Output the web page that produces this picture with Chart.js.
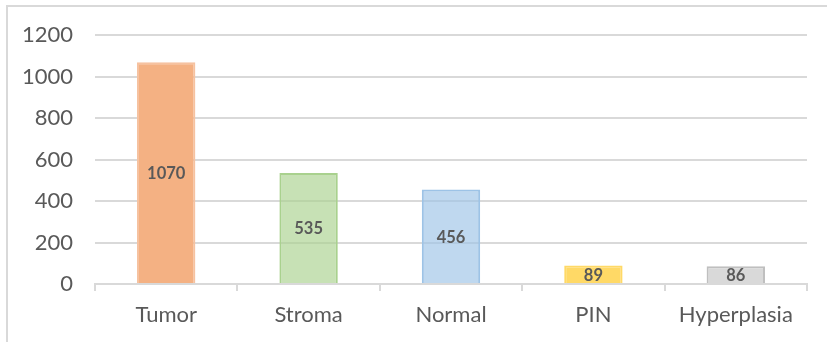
<!DOCTYPE html>
<html>
<head>
<meta charset="utf-8">
<script src="https://cdn.jsdelivr.net/npm/chart.js@4/dist/chart.umd.min.js"></script>
<style>
    html, body { margin: 0; padding: 0; background: #fff; overflow: hidden; }
    #wrap { position: relative; width: 827px; height: 342px; }
    #frame {
        position: absolute; left: 6px; top: 5px; width: 840px; height: 360px;
        border: 2px solid #d9d9d9; box-sizing: border-box;
    }
    canvas { position: absolute; left: 0; top: 0; }
</style>
</head>
<body>
<div id="wrap">
    <div id="frame"></div>
    <canvas id="chart" width="827" height="342"></canvas>
</div>
<script>
    // Tissue categories and counts
    const categories = ['Tumor', 'Stroma', 'Normal', 'PIN', 'Hyperplasia'];
    const counts = [1070, 535, 456, 89, 86];

    // Excel-style fills (some slightly see-through, gridlines show behind them)
    const fills = ['#F4B183', 'rgba(169,209,142,0.65)', 'rgba(157,195,230,0.65)', '#FFD966', '#D9D9D9'];
    const borders = ['#F6C2A0', '#A9D18E', '#9DC3E6', '#FFD966', '#BFBFBF'];

    const FONT = "'Lato', 'Liberation Sans', sans-serif";

    // Draws the value in the middle of each bar
    const centerLabels = {
        id: 'centerLabels',
        afterDatasetsDraw(chart) {
            const ctx = chart.ctx;
            const meta = chart.getDatasetMeta(0);
            ctx.save();
            ctx.font = 'bold 16.5px ' + FONT;
            ctx.fillStyle = '#595959';
            ctx.textAlign = 'center';
            ctx.textBaseline = 'middle';
            meta.data.forEach((bar, i) => {
                const p = bar.getProps(['x', 'y', 'base'], true);
                ctx.fillText(String(counts[i]), p.x, (p.y + p.base) / 2 + 1);
            });
            ctx.restore();
        }
    };

    new Chart(document.getElementById('chart'), {
        type: 'bar',
        data: {
            labels: categories,
            datasets: [{
                data: counts,
                backgroundColor: fills,
                borderColor: borders,
                borderWidth: 2,
                borderSkipped: 'bottom',
                barPercentage: 0.41,
                categoryPercentage: 1
            }]
        },
        options: {
            responsive: false,
            animation: false,
            layout: { padding: { top: 35, right: 20, left: 0, bottom: 0 } },
            plugins: {
                legend: { display: false },
                tooltip: { enabled: false }
            },
            scales: {
                x: {
                    grid: {
                        offset: true,
                        drawOnChartArea: false,
                        drawTicks: true,
                        tickLength: 7,
                        color: '#d9d9d9',
                        lineWidth: 2
                    },
                    border: { color: '#d9d9d9', width: 2 },
                    ticks: {
                        color: '#595959',
                        font: { family: FONT, size: 22 },
                        padding: 11
                    },
                    afterFit(scale) { scale.height = 58; }
                },
                y: {
                    min: 0,
                    max: 1200,
                    ticks: {
                        stepSize: 200,
                        color: '#595959',
                        font: { family: FONT, size: 22 },
                        padding: 22,
                        callback: v => String(v)
                    },
                    grid: { color: '#d9d9d9', lineWidth: 2, drawTicks: false },
                    border: { display: false },
                    afterFit(scale) { scale.width = 95; }
                }
            }
        },
        plugins: [centerLabels]
    });
</script>
</body>
</html>
